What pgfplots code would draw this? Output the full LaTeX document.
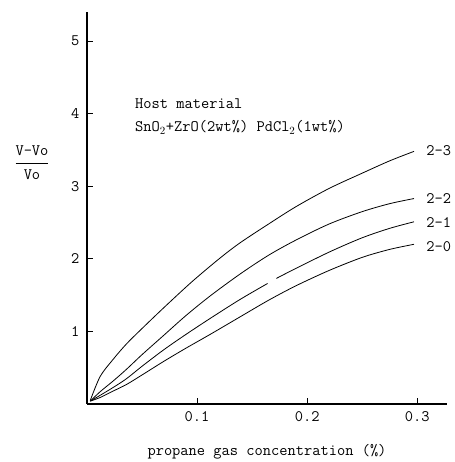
\documentclass[border=0pt]{standalone}
\usepackage{fontspec}
\usepackage{pgfplots}
\pgfplotsset{compat=1.18}
\begin{document}
\begin{tikzpicture}
\begin{axis}[
  scale only axis, width=360pt, height=392pt,
  xmin=0, xmax=0.327, ymin=0, ymax=5.4,
  axis lines=left, axis line style={-, line width=1.1pt, black},
  tick align=inside, major tick length=6pt,
  tick style={line width=0.9pt, black},
  xtick={0.1,0.2,0.3}, xticklabels={0.1,0.2,0.3},
  ytick={1,2,3,4,5}, yticklabels={1,2,3,4,5},
  font=\ttfamily\fontsize{16}{19}\selectfont,
  xticklabel style={yshift=-4pt},
  yticklabel style={xshift=-4pt},
  xlabel={propane gas concentration (\%)},
  xlabel style={at={(axis description cs:0.5,0)}, anchor=center, yshift=-48pt},
  ylabel={$\displaystyle\frac{\mbox{V-Vo}}{\mbox{Vo}}$},
  ylabel style={rotate=-90, at={(axis description cs:0,0.615)}, anchor=center, xshift=-55pt},
  clip=false,
]
% 2-3
\addplot[black, no markers, line width=0.8pt, smooth] coordinates {(0.003,0.05) (0.012,0.38) (0.024,0.62) (0.036,0.83) (0.05,1.04) (0.07,1.33) (0.095,1.68) (0.12,2.0) (0.139,2.22) (0.165,2.48) (0.19,2.72) (0.22,2.97) (0.25,3.18) (0.275,3.35) (0.297,3.48)};
% 2-2
\addplot[black, no markers, line width=0.8pt, smooth] coordinates {(0.003,0.04) (0.012,0.17) (0.024,0.32) (0.036,0.48) (0.05,0.68) (0.07,0.95) (0.09,1.22) (0.112,1.49) (0.139,1.79) (0.165,2.05) (0.19,2.26) (0.22,2.48) (0.25,2.65) (0.275,2.76) (0.297,2.83)};
% 2-1 (two pieces, gap as in the original)
\addplot[black, no markers, line width=0.8pt, smooth] coordinates {(0.003,0.04) (0.012,0.12) (0.024,0.23) (0.036,0.35) (0.05,0.52) (0.07,0.75) (0.09,0.96) (0.112,1.18) (0.139,1.44) (0.164,1.66)};
\addplot[black, no markers, line width=0.8pt, smooth] coordinates {(0.172,1.73) (0.19,1.87) (0.221,2.10) (0.25,2.29) (0.275,2.42) (0.297,2.51)};
% 2-0
\addplot[black, no markers, line width=0.8pt, smooth] coordinates {(0.003,0.04) (0.012,0.09) (0.024,0.18) (0.036,0.27) (0.05,0.40) (0.07,0.59) (0.09,0.77) (0.112,0.96) (0.139,1.20) (0.165,1.43) (0.19,1.63) (0.22,1.84) (0.25,2.02) (0.275,2.13) (0.297,2.20)};
\node[anchor=west] at (axis cs:0.305,3.49) {2-3};
\node[anchor=west] at (axis cs:0.305,2.83) {2-2};
\node[anchor=west] at (axis cs:0.305,2.50) {2-1};
\node[anchor=west] at (axis cs:0.305,2.17) {2-0};
\node[anchor=west, inner sep=0pt] at (axis cs:0.0436,4.14) {Host material};
\node[anchor=west, inner sep=0pt] at (axis cs:0.0436,3.81) {SnO$_2$+ZrO(2wt\%) PdCl$_2$(1wt\%)};
\path (rel axis cs:0,0) ++(-87pt,-58pt) coordinate (bbl);
\path (rel axis cs:1,1) ++(7pt,12pt) coordinate (btr);
\end{axis}
\pgfresetboundingbox
\path (bbl) rectangle (btr);
\end{tikzpicture}
\end{document}
